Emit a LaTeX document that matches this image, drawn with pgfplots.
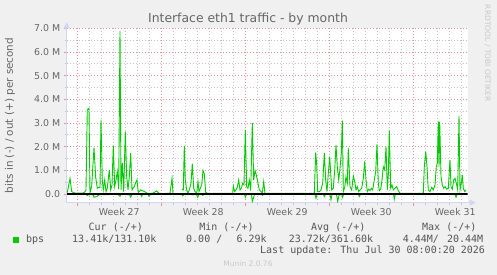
\documentclass[border=0pt]{standalone}
\usepackage{pgfplots}
\pgfplotsset{compat=1.18}
\usepackage{fontspec}
\setmainfont{DejaVu Sans}
\newfontfamily\monofont{DejaVu Sans Mono}
\usetikzlibrary{arrows.meta}
\definecolor{bgc}{HTML}{F0F0F0}
\definecolor{txt}{HTML}{666666}
\definecolor{ltxt}{HTML}{555555}
\definecolor{axc}{HTML}{CFD6F8}
\definecolor{mgrid}{HTML}{E49494}
\definecolor{mingrid}{HTML}{C4C4C4}
\definecolor{lgreen}{HTML}{00CC00}
\definecolor{wm}{HTML}{C8C8C8}
\begin{document}
\begin{tikzpicture}[x=1pt,y=1pt]
\fill[bgc] (0,0) rectangle (497,275);
\useasboundingbox (0,0) rectangle (497,275);
\begin{axis}[
  at={(66.7pt,72.3pt)}, anchor=south west,
  scale only axis, width=401pt, height=174.4pt,
  xmin=66.7, xmax=467.7, ymin=-0.37, ymax=7.0,
  axis background/.style={fill=white},
  axis lines=left,
  axis line style={draw=axc, line width=0.8pt},
  x axis line style={-{Triangle[length=6pt,width=6pt]}, shorten >=-8pt},
  y axis line style={-{Triangle[length=6pt,width=6pt]}, shorten >=-6pt},
  unbounded coords=jump,
  xtick={77.3,161.3,245.3,329.3,413.3},
  xticklabels={,,,,,},
  minor xtick={77.3,89.3,...,461.3},
  extra x ticks={119.3,203.3,287.3,371.3,455.3},
  extra x tick labels={Week 27,Week 28,Week 29,Week 30,Week 31},
  extra x tick style={grid=none, major tick length=0pt, xticklabel style={yshift=-2pt}},
  ytick={0,1,2,3,4,5,6,7},
  yticklabels={0.0,1.0 M,2.0 M,3.0 M,4.0 M,5.0 M,6.0 M,7.0 M},
  minor ytick={0.5,1.5,2.5,3.5,4.5,5.5,6.5},
  grid=both,
  major grid style={draw=mgrid, line width=0.8pt, dash pattern=on 1pt off 2pt},
  minor grid style={draw=mingrid, line width=0.8pt, dash pattern=on 1pt off 2pt},
  tick align=outside,
  major tick length=3pt, minor tick length=2pt,
  major tick style={draw=mgrid, line width=0.8pt},
  minor tick style={draw=mingrid, line width=0.8pt},
  ticklabel style={font=\fontsize{9.4}{11}\selectfont, text=txt},
  clip=true,
]
\addplot[lgreen, line width=0.9pt] coordinates {
(67.3,0.06) (70.0,0.66) (71.7,0.10) (73.3,0.06) (75.7,0.03) (79.0,0.04) (82.3,0.03) (84.7,0.08) (86.0,0.17)
(87.3,3.55) (89.0,3.62) (90.0,0.03) (91.7,0.34) (94.0,1.96) (95.7,0.70) (97.3,0.24) (98.7,0.28) (100.0,0.28)
(101.0,3.13) (102.3,0.59) (103.3,0.17) (104.7,0.59) (106.0,0.10) (107.3,0.24) (109.3,1.01) (110.7,0.17)
(112.0,0.38) (113.3,2.03) (114.7,0.31) (116.0,0.59) (117.3,0.94) (118.7,0.20) (120.0,6.88) (121.0,0.17)
(122.3,1.30) (123.7,0.10) (125.3,2.63) (126.7,0.73) (128.0,0.17) (129.3,0.73) (130.7,1.72) (132.0,0.17)
(133.0,0.24) (134.3,0.31) (135.7,0.48) (137.0,0.59) (138.3,0.06) (140.7,0.17) (144.0,0.11) (147.3,0.03)
(150.0,0.01) (153.3,0.04) (156.7,0.13) (159.0,0.03) (164.0,0.01) (166.0,0.03) (170.0,0.03) (172.0,0.66)
(173.0,0.03) (177.0,nan)
(182.0,0.20) (183.3,0.17) (184.3,2.03) (185.3,0.59) (186.7,0.17) (188.0,0.03) (189.3,0.17) (191.0,0.45)
(192.3,1.27) (193.7,0.24) (195.0,0.10) (196.7,0.03) (198.0,0.52) (199.0,0.10) (200.3,0.24) (201.7,0.38)
(203.0,0.99) (204.3,0.85) (205.7,0.06) (207.7,0.03) (232.7,0.03) (233.3,0.34) (234.7,0.10) (236.0,0.17)
(237.3,0.28) (238.7,0.59) (240.0,0.17) (241.3,0.24) (242.7,0.45) (244.0,0.38) (245.3,2.70) (246.7,0.31)
(248.0,0.24) (249.3,0.59) (250.7,0.14) (252.3,2.99) (253.7,0.59) (255.0,0.99) (256.3,0.80) (257.7,0.52)
(259.3,0.17) (261.0,0.10) (262.3,0.03) (263.7,0.52) (265.0,0.01) (268.0,0.03) (314.3,0.03)
(315.7,1.75) (316.7,1.23) (317.7,0.10) (319.3,0.10) (321.0,0.17) (322.7,0.45) (324.3,1.72) (325.7,0.59)
(327.0,0.10) (328.3,0.87) (329.7,1.58) (331.7,0.17) (333.3,0.24) (334.7,1.01) (336.0,2.07) (337.3,1.15)
(338.7,0.59) (340.0,1.08) (341.3,1.72) (342.3,3.10) (343.3,0.10) (344.7,0.28) (346.0,0.73) (347.3,0.45)
(348.3,1.93) (350.0,0.31) (351.7,0.17) (353.3,0.76) (354.7,0.52) (356.0,0.17) (357.3,0.31) (358.7,0.10)
(360.0,0.17) (361.7,0.24) (363.3,0.66) (364.7,1.37) (366.0,0.59) (367.3,0.10) (368.7,0.20) (370.0,0.14)
(371.3,0.24) (372.7,0.17) (374.3,0.59) (375.7,0.94) (377.0,2.10) (378.3,0.45) (379.3,0.14) (380.7,0.20)
(382.0,0.59) (383.3,1.15) (384.7,1.01) (386.0,2.00) (387.3,0.17) (388.3,0.80) (389.3,2.66) (390.7,0.24)
(392.0,0.38) (393.3,0.17) (395.0,0.24) (396.7,0.31) (398.3,0.14) (400.0,0.03) (423.3,0.03) (424.3,1.15)
(425.7,1.79) (427.0,1.15) (428.3,0.17) (430.0,0.10) (431.7,0.28) (433.3,0.17) (435.0,0.38) (436.3,1.15)
(437.3,1.30) (438.3,3.06) (439.0,1.15) (439.7,3.06) (441.0,0.73) (442.3,0.38) (443.7,0.24) (445.0,0.31)
(446.7,0.20) (448.3,0.24) (450.0,1.44) (451.0,0.31) (452.3,0.20) (453.7,0.59) (455.0,0.66) (456.3,0.45)
(457.7,0.17) (459.0,3.30) (460.0,0.17) (461.3,0.45) (462.3,0.80) (463.3,0.24) (464.7,0.10) (466.0,0.17)
};
\addplot[lgreen, line width=0.9pt] coordinates {
(67,-0.02) (86,-0.02) (87.3,-0.07) (89,-0.02) (93,-0.03) (94,-0.14) (96,-0.12) (97.3,-0.10) (99,-0.03)
(118,-0.02) (120,-0.10) (121,-0.02) (129.5,-0.03) (130.7,-0.14) (132,-0.02) (141,-0.02) (141.7,-0.10)
(142.5,-0.02) (148,-0.02) (149,-0.10) (150.5,-0.02) (173,-0.02) (177,nan) (182,-0.02) (182.7,-0.08)
(184,-0.02) (196.7,-0.03) (197.7,-0.14) (199,-0.02) (202,-0.02) (202.7,-0.06) (204,-0.02) (244.5,-0.02)
(245.3,-0.14) (246.5,-0.02) (251.5,-0.03) (252.3,-0.32) (253.3,-0.18) (254.5,-0.02) (262,-0.02)
(262.7,-0.06) (263.5,-0.02) (315,-0.02) (316,-0.18) (317,-0.02) (323.5,-0.02) (324.3,-0.11) (325.5,-0.02)
(330,-0.02) (331,-0.25) (332,-0.02) (336.5,-0.02) (337.7,-0.32) (339,-0.05) (342,-0.02) (342.7,-0.14)
(343.5,-0.02) (358.5,-0.02) (359.3,-0.11) (360.5,-0.02) (372,-0.02) (372.7,-0.04) (373.5,-0.02)
(393.5,-0.02) (394.3,-0.22) (395.3,-0.02) (455,-0.02) (456,-0.14) (457,-0.02) (466,-0.02)
};
\addplot[black, line width=1.3pt] coordinates {(66.7,0) (467.7,0)};
\end{axis}
% title and axis label
\node[anchor=base, text=txt, font=\fontsize{12.4}{14}\selectfont, inner sep=0pt] at (248,252) {Interface eth1 traffic - by month};
\node[rotate=90, text=txt, font=\fontsize{10.4}{12}\selectfont, inner sep=0pt] at (10,159.5) {bits in (-) / out (+) per second};
\node[rotate=-90, text=wm, font=\fontsize{7.5}{9}\selectfont, inner sep=0pt] at (487.5,221.7) {RRDTOOL / TOBI OETIKER};
% legend
\fill[lgreen] (13.3,32.3) rectangle (19.3,38.3);
\begin{scope}[every node/.style={inner sep=0pt, text=ltxt, font=\monofont\fontsize{10}{12}\selectfont}]
\node[anchor=base west] at (88.5,44) {Cur (-/+)};
\node[anchor=base west] at (199.2,44) {Min (-/+)};
\node[anchor=base west] at (311,44) {Avg (-/+)};
\node[anchor=base west] at (422,44) {Max (-/+)};
\node[anchor=base west] at (26,32.7) {bps};
\node[anchor=base west] at (72,32.7) {13.41k/131.10k};
\node[anchor=base west] at (186,32.7) {0.00 /};
\node[anchor=base east] at (266.8,32.7) {6.29k};
\node[anchor=base west] at (288.6,32.7) {23.72k/361.60k};
\node[anchor=base west] at (402.6,32.7) {4.44M/};
\node[anchor=base east] at (483.4,32.7) {20.44M};
\node[anchor=base west] at (260,21) {Last update: Thu Jul 30 08:00:20 2026};
\end{scope}
\node[anchor=base, text=wm, font=\fontsize{7.5}{9}\selectfont, inner sep=0pt] at (248,8.3) {Munin 2.0.76};
\end{tikzpicture}
\end{document}
